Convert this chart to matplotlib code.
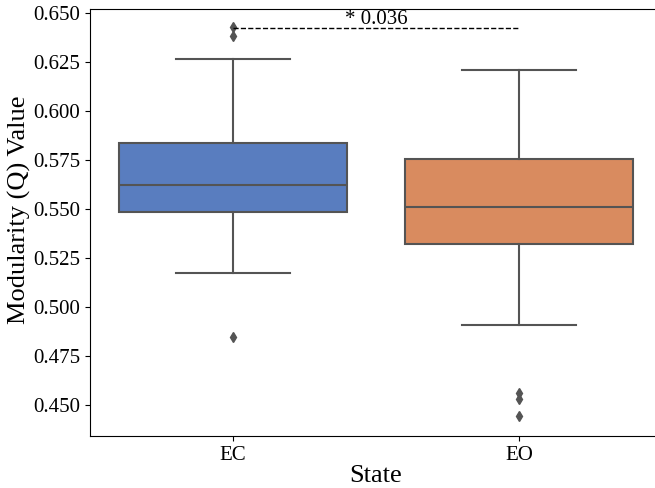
import matplotlib
matplotlib.use("Agg")
import matplotlib.pyplot as plt

plt.rcParams['font.family'] = ['Liberation Serif', 'DejaVu Serif']

# Data
states = ["EC", "EO"]
whisker_low = [0.5175, 0.4908]
q1 = [0.5483, 0.5321]
median = [0.5622, 0.5512]
q3 = [0.5837, 0.5757]
whisker_high = [0.6265, 0.6209]
outliers = [[0.4845, 0.6385, 0.6427], [0.4561, 0.4531, 0.4444]]
p_label = "* 0.036"
box_colors = ["#597dbf", "#d98b5f"]
line_gray = "#545454"

fig = plt.figure(figsize=(6.55, 4.88), dpi=100)
ax = fig.add_axes([90/655, 52/488, 572/655, 426.7/488])

stats = []
for i, s in enumerate(states):
    stats.append(dict(label=s, whislo=whisker_low[i], q1=q1[i], med=median[i],
                      q3=q3[i], whishi=whisker_high[i], fliers=outliers[i]))

bp = ax.bxp(stats, positions=list(range(len(states))), widths=0.8,
            patch_artist=True,
            boxprops=dict(edgecolor=line_gray, linewidth=1.5),
            medianprops=dict(color=line_gray, linewidth=1.5),
            whiskerprops=dict(color=line_gray, linewidth=1.5),
            capprops=dict(color=line_gray, linewidth=1.5),
            flierprops=dict(marker='d', markerfacecolor=line_gray,
                            markeredgecolor=line_gray, markersize=5))
for patch, c in zip(bp['boxes'], box_colors):
    patch.set_facecolor(c)

# significance annotation
ymax = max(max(o) for o in outliers)
ax.plot([0, 1], [ymax - 0.0004, ymax - 0.0004], color='black', linestyle='--', linewidth=1)
ax.text(0.5, ymax + 0.0015, p_label, ha='center', va='baseline', fontsize=15)

ax.set_xlim(-0.5, 1.5)
ax.set_ylim(0.4342, 0.6519)
ax.set_yticks([0.450, 0.475, 0.500, 0.525, 0.550, 0.575, 0.600, 0.625, 0.650])
ax.set_yticklabels([f"{v:.3f}" for v in ax.get_yticks()])
ax.set_xticks(range(len(states)))
ax.set_xticklabels(states)
ax.tick_params(labelsize=15)
ax.set_xlabel("State", fontsize=19, labelpad=0)
ax.set_ylabel("Modularity (Q) Value", fontsize=19)
ax.yaxis.set_label_coords(-0.103, 0.53)

fig.savefig("out.png", dpi=100)
